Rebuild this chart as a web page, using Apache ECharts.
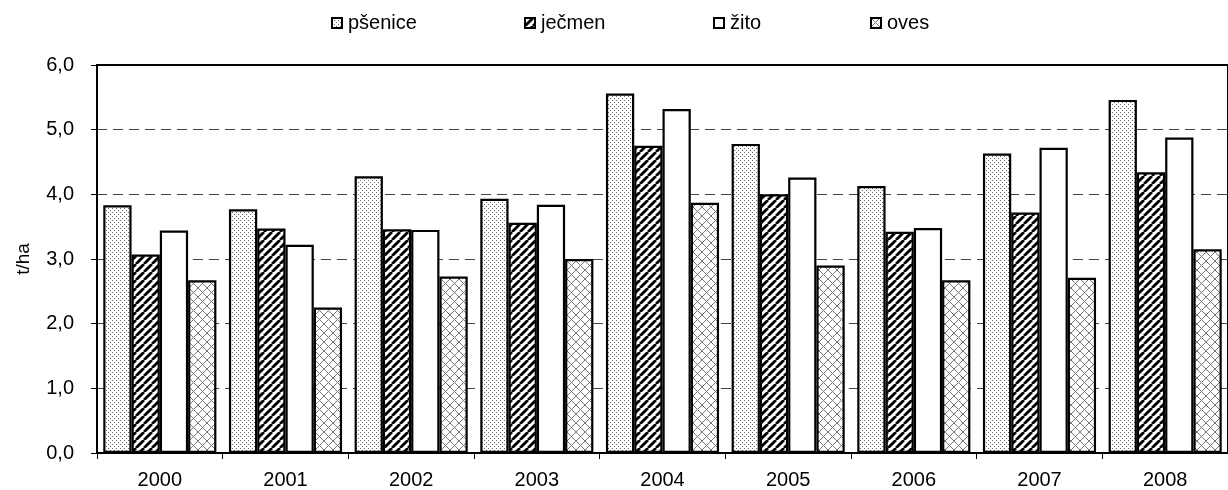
<!DOCTYPE html>
<html>
<head>
<meta charset="utf-8">
<script src="https://cdn.jsdelivr.net/npm/echarts@6/dist/echarts.min.js"></script>
<style>
html,body{margin:0;padding:0;background:#fff;}
#chart{width:1228px;height:490px;}
</style>
</head>
<body>
<div id="chart"></div>
<script>
const years = ['2000','2001','2002','2003','2004','2005','2006','2007','2008'];
const seriesNames = ['pšenice','ječmen','žito','oves'];
const psenice = [3.83, 3.77, 4.28, 3.93, 5.56, 4.78, 4.13, 4.63, 5.46];
const jecmen  = [3.07, 3.47, 3.46, 3.56, 4.75, 4.00, 3.42, 3.72, 4.34];
const zito    = [3.44, 3.22, 3.45, 3.84, 5.32, 4.26, 3.48, 4.72, 4.88];
const oves    = [2.67, 2.25, 2.73, 3.00, 3.87, 2.90, 2.67, 2.71, 3.15];
const yTicks = [0, 1, 2, 3, 4, 5, 6];

function makeTile(size, draw) {
  const c = document.createElement('canvas');
  c.width = size; c.height = size;
  const ctx = c.getContext('2d');
  ctx.fillStyle = '#fff';
  ctx.fillRect(0, 0, size, size);
  draw(ctx, size);
  return c;
}
const dotTile = makeTile(4, (ctx) => {
  ctx.fillStyle = '#666';
  ctx.fillRect(0, 0, 1, 1);
  ctx.fillRect(2, 2, 1, 1);
});
const stripeTile = makeTile(8, (ctx, s) => {
  ctx.strokeStyle = '#000';
  ctx.lineWidth = 2.8;
  for (let k = -1; k <= 1; k++) {
    ctx.beginPath();
    ctx.moveTo(k * s, s);
    ctx.lineTo(k * s + s, 0);
    ctx.stroke();
  }
});
const crossTile = makeTile(9, (ctx, s) => {
  ctx.strokeStyle = '#777';
  ctx.lineWidth = 1;
  ctx.beginPath();
  ctx.moveTo(0, 0); ctx.lineTo(s, s);
  ctx.moveTo(0, s); ctx.lineTo(s, 0);
  ctx.stroke();
});

const fills = [
  {image: dotTile, repeat: 'repeat'},
  {image: stripeTile, repeat: 'repeat'},
  '#ffffff',
  {image: crossTile, repeat: 'repeat'}
];
const values = [psenice, jecmen, zito, oves];
const legendLefts = [331, 524, 713, 870];

const FONT = '"Liberation Sans", Arial, sans-serif';
const chart = echarts.init(document.getElementById('chart'), null, {renderer: 'canvas'});
chart.setOption({
  animation: false,
  backgroundColor: '#fff',
  textStyle: {fontFamily: FONT},
  legend: seriesNames.map((n, i) => ({
    data: [{name: n, icon: 'rect'}],
    left: legendLefts[i],
    top: 13,
    padding: 0,
    itemWidth: 10,
    itemHeight: 10,
    itemGap: 0,
    textStyle: {fontSize: 20, color: '#000', fontFamily: FONT, padding: [0, 0, 0, 1]}
  })),
  grid: {
    left: 97, top: 65, width: 1143, height: 389,
    show: true, borderColor: '#000', borderWidth: 2, backgroundColor: 'transparent'
  },
  xAxis: {
    type: 'category',
    data: years,
    axisLine: {lineStyle: {color: '#000', width: 2}},
    axisTick: {show: true, length: 6, lineStyle: {color: '#000', width: 1}, interval: 0},
    axisLabel: {fontSize: 20, color: '#000', margin: 17, fontFamily: FONT}
  },
  yAxis: {
    type: 'value',
    min: 0, max: 6, interval: 1,
    name: 't/ha',
    nameLocation: 'middle',
    nameGap: 64,
    nameTextStyle: {fontSize: 19, color: '#000', fontFamily: FONT},
    axisLine: {show: true, lineStyle: {color: '#000', width: 2}},
    axisTick: {show: true, length: 6, lineStyle: {color: '#000', width: 1}},
    axisLabel: {
      fontSize: 20, color: '#000', margin: 23, fontFamily: FONT,
      formatter: v => yTicks.includes(v) ? v.toFixed(1).replace('.', ',') : ''
    },
    splitLine: {show: true, showMinLine: false, showMaxLine: false,
      lineStyle: {color: '#444', width: 1, type: [10, 6]}}
  },
  series: seriesNames.map((n, i) => ({
    name: n,
    type: 'bar',
    data: values[i],
    barGap: '0%',
    barCategoryGap: '10%',
    itemStyle: {color: fills[i], borderColor: '#000', borderWidth: 2.2}
  }))
});
</script>
</body>
</html>
